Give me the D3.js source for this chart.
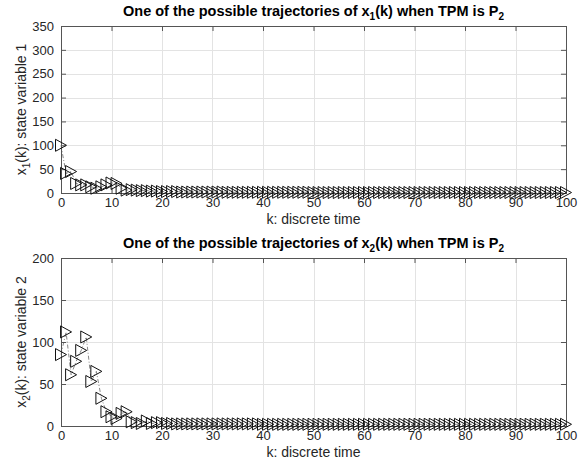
<!DOCTYPE html>
<html><head><meta charset="utf-8">
<script src="https://cdn.jsdelivr.net/npm/d3@7"></script>
<style>body{margin:0;background:#fff}svg{display:block}text{font-family:"Liberation Sans",Arial,Helvetica,sans-serif}</style>
</head><body><svg id="c" width="581" height="461"></svg>
<script>
const kValues = d3.range(0, 101);
const x1Values = [100,41,45,20,17,17,13,10,13,17,21,20,10,
  6,7,6,5,5,4,4,
  3,3,3,3,2,2,2,2,2,2,
  2,2,2,1.5,1.5,1.5,1.5,1.5,1.5,1.5,
  1.5,1.5,1.5,1.5,1.5,1.5,1.5,1.5,1.5,1.5,
  1,1,1,1,1,1,1,1,1,1,
  1,1,1,1,1,1,1,1,1,1,
  1,1,1,1,1,1,1,1,1,1,
  1,1,1,1,1,1,1,1,1,1,
  1,1,1,1,1,1,1,1,1,1,1];
const x2Values = [85,112,61,77,90,106,53,65,33,17,11,9,15,17,5,
  4,3,6,3,4,4,3,
  3,2.5,2.5,2.5,2.5,2.5,2.5,2.5,
  2.5,2.5,2.5,2.5,2.5,2.5,2.5,2.5,2.5,2.5,
  2,2,2,2,2,2,2,2,2,2,
  2,2,2,2,2,2,2,2,2,2,
  2,2,2,2,2,2,2,2,2,2,
  2,2,2,2,2,2,2,2,2,2,
  2,2,2,2,2,2,2,2,2,2,
  2,2,2,2,2,2,2,2,2,2,2];
const xTicks = d3.range(0, 101, 10);
const y1Ticks = d3.range(0, 351, 50);
const y2Ticks = d3.range(0, 201, 50);

const svg = d3.select("#c");
const L = 61, R = 566;
const panels = [
  {top: 26, bottom: 193, ymax: 350, yt: y1Ticks, vals: x1Values, sub: "1", label: "state variable 1"},
  {top: 258, bottom: 426, ymax: 200, yt: y2Ticks, vals: x2Values, sub: "2", label: "state variable 2"}
];
const axisColor = "#555", textColor = "#262626";

panels.forEach(p => {
  const x = d3.scaleLinear().domain([0, 100]).range([L, R]);
  const y = d3.scaleLinear().domain([0, p.ymax]).range([p.bottom, p.top]);
  const g = svg.append("g");
  // grid
  g.selectAll(".gx").data(xTicks).enter().append("line")
    .attr("x1", d => Math.round(x(d)) + 0.5).attr("x2", d => Math.round(x(d)) + 0.5)
    .attr("y1", p.top).attr("y2", p.bottom).attr("stroke", "#e3e3e3").attr("stroke-width", 1);
  g.selectAll(".gy").data(p.yt).enter().append("line")
    .attr("y1", d => Math.round(y(d)) + 0.5).attr("y2", d => Math.round(y(d)) + 0.5)
    .attr("x1", L).attr("x2", R).attr("stroke", "#e3e3e3").attr("stroke-width", 1);
  // axes with inward ticks
  const ax = d3.axisBottom(x).tickValues(xTicks).tickSize(-5).tickPadding(5).tickFormat(d3.format("d"));
  const axT = d3.axisTop(x).tickValues(xTicks).tickSize(-5).tickFormat("");
  const ay = d3.axisLeft(y).tickValues(p.yt).tickSize(-5).tickPadding(7).tickFormat(d3.format("d"));
  const ayR = d3.axisRight(y).tickValues(p.yt).tickSize(-5).tickFormat("");
  const style = sel => {
    sel.selectAll(".domain").remove();
    sel.selectAll("line").attr("stroke", axisColor);
    sel.selectAll("text").attr("fill", textColor).style("font-size", "13px").style("font-family", '"Liberation Sans",Arial,sans-serif');
  };
  g.append("g").attr("transform", `translate(0,${p.bottom})`).call(ax).call(style);
  g.append("g").attr("transform", `translate(0,${p.top})`).call(axT).call(style);
  g.append("g").attr("transform", `translate(${L},0)`).call(ay).call(style);
  g.append("g").attr("transform", `translate(${R},0)`).call(ayR).call(style);
  g.append("rect").attr("x", L + 0.5).attr("y", p.top + 0.5).attr("width", R - L).attr("height", p.bottom - p.top)
    .attr("fill", "none").attr("stroke", axisColor).attr("stroke-width", 1);

  // line
  const line = d3.line().x((d, i) => x(kValues[i])).y(d => y(d));
  g.append("path").datum(p.vals).attr("d", line).attr("fill", "none")
    .attr("stroke", "#555").attr("stroke-width", 0.7).attr("stroke-dasharray", "4,2,1,2");
  // markers
  const w = 11, h = 12;
  g.selectAll(".m").data(p.vals).enter().append("path")
    .attr("d", `M${-w/2},${-h/2}L${w/2},0L${-w/2},${h/2}Z`)
    .attr("transform", (d, i) => `translate(${x(kValues[i])},${y(d)})`)
    .attr("fill", "none").attr("stroke", "#111").attr("stroke-width", 1);

  // title
  const t = svg.append("text").attr("x", (L + R) / 2).attr("y", p.top - 10)
    .attr("text-anchor", "middle").attr("font-weight", "bold").attr("font-size", "14.5px").attr("fill", "#000");
  t.append("tspan").text("One of the possible trajectories of x");
  t.append("tspan").attr("font-size", "10px").attr("dy", 4).text(p.sub);
  t.append("tspan").attr("dy", -4).text("(k) when TPM is P");
  t.append("tspan").attr("font-size", "10px").attr("dy", 4).text("2");
  // x label
  svg.append("text").attr("x", (L + R) / 2).attr("y", p.bottom + 31)
    .attr("text-anchor", "middle").attr("font-size", "14px").attr("fill", textColor).text("k: discrete time");
  // y label
  const yl = svg.append("text").attr("transform", `translate(26,${(p.top + p.bottom) / 2}) rotate(-90)`)
    .attr("text-anchor", "middle").attr("font-size", "14px").attr("fill", textColor);
  yl.append("tspan").text("x");
  yl.append("tspan").attr("font-size", "10px").attr("dy", 4).text(p.sub);
  yl.append("tspan").attr("dy", -4).text("(k): " + p.label);
});
</script></body></html>
